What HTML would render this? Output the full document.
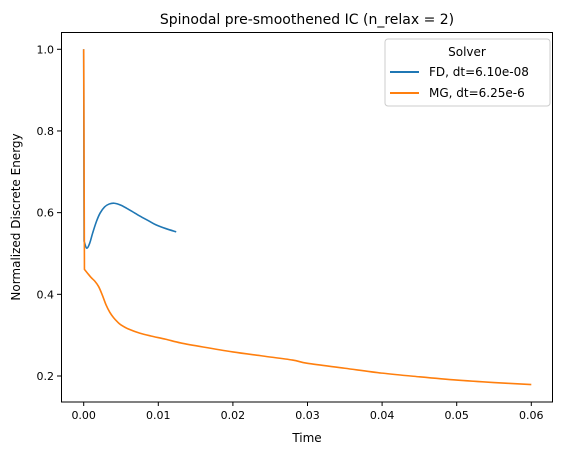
<!DOCTYPE html>
<html><head><meta charset="utf-8"><style>
html,body{margin:0;padding:0;background:#fff;}
svg{display:block;font-family:"DejaVu Sans","Liberation Sans",sans-serif;}
</style></head><body>
<svg id="chart" width="567" height="455" viewBox="0 0 567 455">
<rect width="567" height="455" fill="#fff"/>
<text x="307" y="24" font-size="14" text-anchor="middle" fill="#000">Spinodal pre-smoothened IC (n_relax = 2)</text>
<g id="plot"></g>
<rect x="61.5" y="32.5" width="491" height="369.5" fill="none" stroke="#000" stroke-width="1"/>
<text x="307" y="442" font-size="12" text-anchor="middle">Time</text>
<text transform="translate(20,217) rotate(-90)" font-size="12" text-anchor="middle">Normalized Discrete Energy</text>
<g>
<rect x="385" y="39" width="165" height="67" rx="3" fill="#fff" fill-opacity="0.8" stroke="#ccc"/>
<text x="467" y="56" font-size="12" text-anchor="middle">Solver</text>
<line x1="390" y1="72" x2="419" y2="72" stroke="#1f77b4" stroke-width="2"/>
<text x="429" y="76" font-size="12">FD, dt=6.10e-08</text>
<line x1="390" y1="93" x2="419" y2="93" stroke="#ff7f0e" stroke-width="2"/>
<text x="429" y="97" font-size="12">MG, dt=6.25e-6</text>
</g>
</svg>
<script>
const xTicks=[0,0.01,0.02,0.03,0.04,0.05,0.06];
const xTickLabels=["0.00","0.01","0.02","0.03","0.04","0.05","0.06"];
const yTicks=[0.2,0.4,0.6,0.8,1.0];
const yTickLabels=["0.2","0.4","0.6","0.8","1.0"];
const fdTime=[0,0.00005,0.0004,0.0008,0.0012,0.0017,0.0022,0.0028,0.0034,0.0041,0.005,0.0062,0.0075,0.0087,0.0097,0.011,0.0124];
const fdEnergy=[1.0,0.53,0.513,0.525,0.55,0.578,0.599,0.614,0.621,0.623,0.618,0.606,0.592,0.58,0.57,0.561,0.553];
const mgTime=[0,0.0001,0.0005,0.001,0.0015,0.002,0.0025,0.003,0.0035,0.004,0.0045,0.005,0.006,0.0075,0.009,0.011,0.013,0.016,0.02,0.024,0.028,0.03,0.035,0.04,0.045,0.05,0.055,0.06];
const mgEnergy=[1.0,0.461,0.452,0.441,0.432,0.419,0.398,0.374,0.356,0.343,0.333,0.325,0.315,0.305,0.298,0.29,0.281,0.271,0.259,0.249,0.239,0.231,0.219,0.207,0.198,0.19,0.184,0.179];
const NS="http://www.w3.org/2000/svg";
function xs(t){return 83.7+t*7460;}
function ys(v){return 376-(v-0.2)*408.4;}
const g=document.getElementById('plot');
xTicks.forEach((t,i)=>{
 const l=document.createElementNS(NS,'line');
 l.setAttribute('x1',xs(t));l.setAttribute('x2',xs(t));l.setAttribute('y1',402);l.setAttribute('y2',406);l.setAttribute('stroke','#000');
 
 
 g.appendChild(l);
 const tx=document.createElementNS(NS,'text');
 tx.setAttribute('x',xs(t));tx.setAttribute('y',419);tx.setAttribute('font-size','11');tx.setAttribute('text-anchor','middle');
 tx.textContent=xTickLabels[i];
 
 
 g.appendChild(tx);
});
yTicks.forEach((v,i)=>{
 const l=document.createElementNS(NS,'line');
 l.setAttribute('x1',57);l.setAttribute('x2',61.5);l.setAttribute('y1',ys(v));l.setAttribute('y2',ys(v));l.setAttribute('stroke','#000');
 
 
 g.appendChild(l);
 const tx=document.createElementNS(NS,'text');
 tx.setAttribute('x',54);tx.setAttribute('y',ys(v)+4);tx.setAttribute('font-size','11');tx.setAttribute('text-anchor','end');
 tx.textContent=yTickLabels[i];
 
 
 g.appendChild(tx);
});
function line(T,E,c,name){
 const P=T.map((t,i)=>[xs(t),ys(E[i])]);
 let d='M'+P[0][0]+','+P[0][1]+' L'+P[1][0]+','+P[1][1];
 for(let i=1;i<P.length-1;i++){
  const p0=P[Math.max(1,i-1)],p1=P[i],p2=P[i+1],p3=P[Math.min(P.length-1,i+2)];
  const c1=[p1[0]+(p2[0]-p0[0])/6,p1[1]+(p2[1]-p0[1])/6];
  const c2=[p2[0]-(p3[0]-p1[0])/6,p2[1]-(p3[1]-p1[1])/6];
  d+=' C'+c1[0]+','+c1[1]+' '+c2[0]+','+c2[1]+' '+p2[0]+','+p2[1];
 }
 const p=document.createElementNS(NS,'path');
 p.setAttribute('d',d);
 p.setAttribute('fill','none');p.setAttribute('stroke',c);p.setAttribute('stroke-width','1.6');p.setAttribute('stroke-linejoin','round');
 
 
 g.appendChild(p);
}
line(fdTime,fdEnergy,'#1f77b4','series-fd');
line(mgTime,mgEnergy,'#ff7f0e','series-mg');
</script>
</body></html>
